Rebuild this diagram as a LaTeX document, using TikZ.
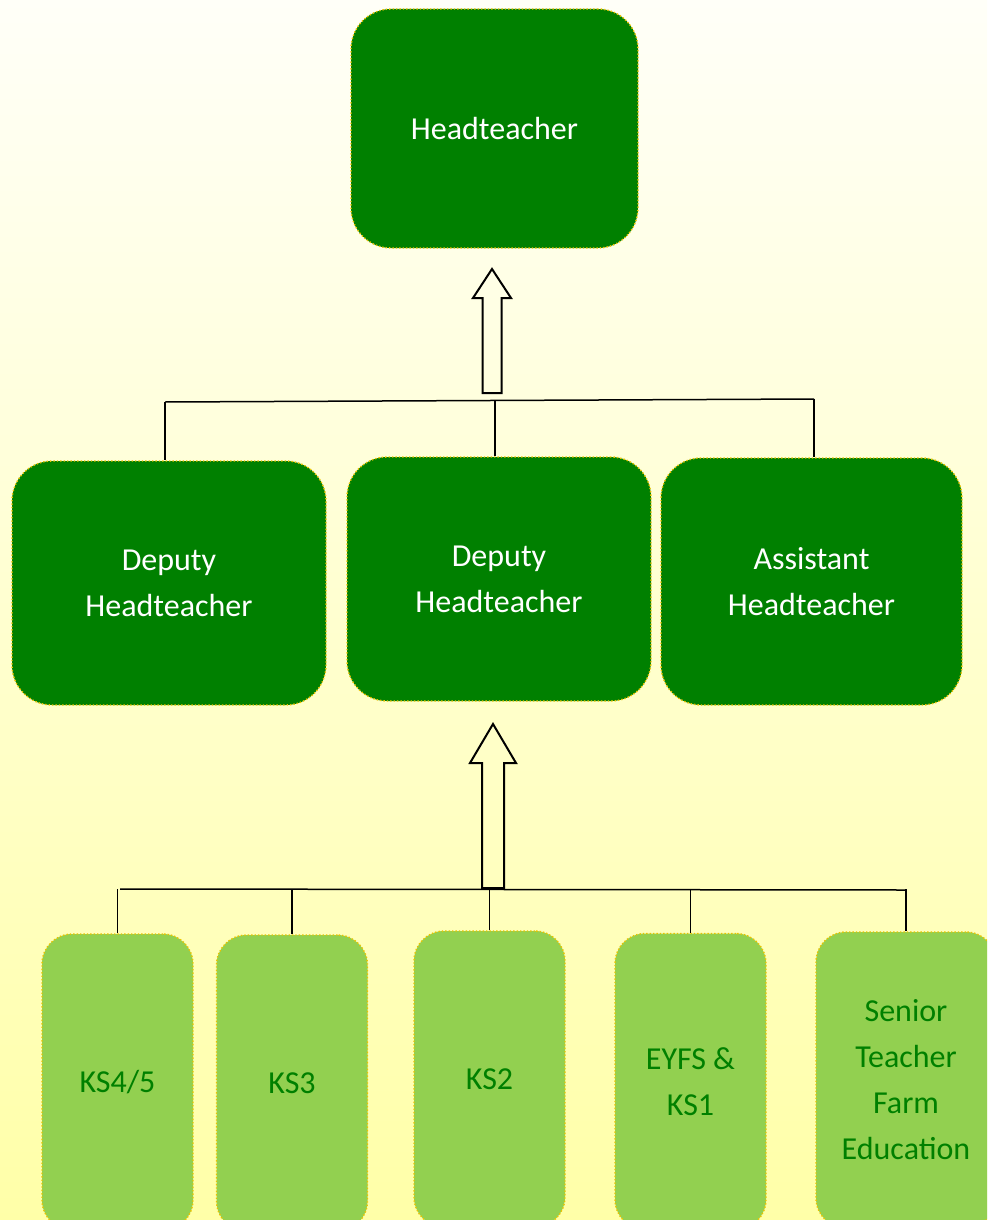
\documentclass[tikz,border=0pt]{standalone}
\usepackage{fontspec}
\setmainfont{Carlito}
\usetikzlibrary{positioning}
\definecolor{darkleaf}{RGB}{0,128,0}
\definecolor{lightleaf}{RGB}{146,208,80}
\definecolor{goldrim}{RGB}{235,195,0}
\definecolor{paletop}{RGB}{255,255,248}
\definecolor{palebottom}{RGB}{255,255,168}

\tikzset{
  lead/.style={rectangle, rounded corners=20pt, fill=darkleaf, draw=goldrim,
    densely dotted, line width=0.7pt, text=white, align=center,
    font=\fontsize{16}{23}\selectfont},
  stage/.style={lead, rounded corners=15pt, fill=lightleaf, text=darkleaf,
    minimum width=75.5pt, minimum height=148pt},
  link/.style={draw=black, line width=0.75pt},
  hollow/.style={draw=black, line width=1pt, line join=miter}
}

\begin{document}
\begin{tikzpicture}[x=0.5pt,y=-0.5pt]
  \useasboundingbox (0,0) rectangle (987,1220);
  \shade[top color=paletop, bottom color=palebottom] (0,0) rectangle (987,1220);
  \clip (0,0) rectangle (987,1220);

  % head
  \node[lead, minimum width=143.5pt, minimum height=119.5pt] (head) at (494.5,128.5) {Headteacher};

  % deputies
  \node[lead, minimum width=157pt, minimum height=122pt] (dep1) at (169,583) {Deputy\\Headteacher};
  \node[lead, minimum width=152pt, minimum height=122pt] (dep2) at (499,579) {Deputy\\Headteacher};
  \node[lead, minimum width=150.5pt, minimum height=123.5pt] (asst) at (811.5,581.5) {Assistant\\Headteacher};

  % key stages
  \node[stage] (ks45) at (117.5,1082) {KS4/5};
  \node[stage] (ks3) at (292,1083) {KS3};
  \node[stage] (ks2) at (489.5,1079) {KS2};
  \node[stage] (eyfs) at (690.5,1081.5) {EYFS \&\\KS1};
  \node[stage, minimum width=90pt] (farm) at (906,1080) {Senior\\Teacher\\Farm\\Education};

  % upper bar
  \coordinate (topL) at (165,402);
  \coordinate (topM) at (495,401);
  \coordinate (topR) at (814,399);
  \draw[link] (topL) -- (topR);
  \draw[link] (topL) -- (topL |- dep1.north);
  \draw[link] (topM) -- (topM |- dep2.north);
  \draw[link] (topR) -- (topR |- asst.north);
  \draw[hollow] (482.5,393) -- (482.5,298) -- (473,298) -- (492,269)
    -- (511,298) -- (501.5,298) -- (501.5,393) -- cycle;

  % lower bar
  \coordinate (botL) at (120,889);
  \coordinate (botR) at (905,890);
  \draw[link] (botL) -- (botR);
  \foreach \n in {ks45,ks3,ks2,eyfs,farm}
    \draw[link] (\n.north) -- (\n.north |- botL);
  \draw[hollow] (482,888) -- (482,763) -- (470,763) -- (493,724)
    -- (516,763) -- (504,763) -- (504,888) -- cycle;
\end{tikzpicture}
\end{document}
